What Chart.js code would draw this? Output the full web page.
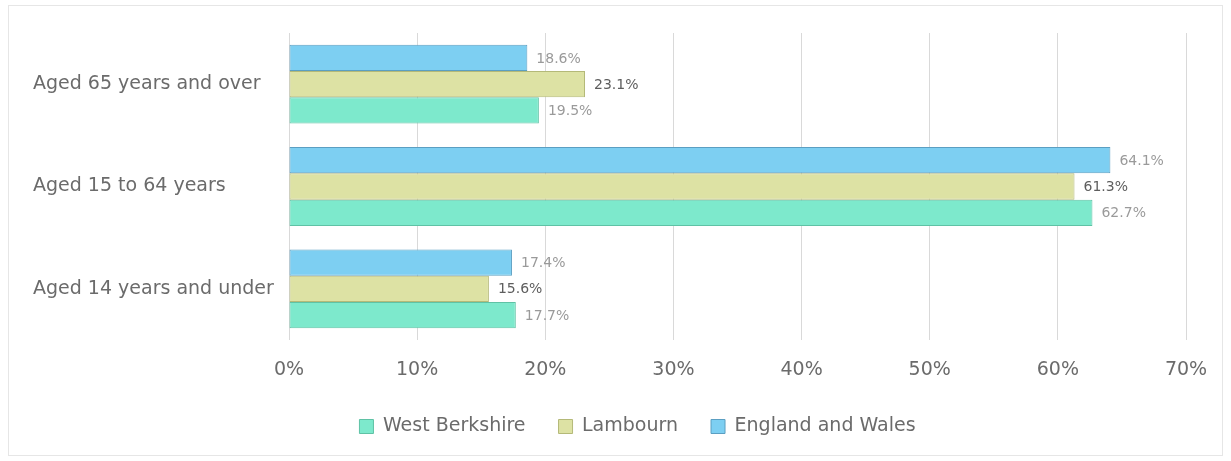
<!DOCTYPE html>
<html lang="en">
<head>
<meta charset="UTF-8">
<title>Age structure</title>
<script src="https://cdn.jsdelivr.net/npm/chart.js@4/dist/chart.umd.min.js"></script>
<style>
*{margin:0;padding:0;box-sizing:border-box}
body{background:#fff;width:1231px;height:461px;overflow:hidden}
.wrap{position:absolute;left:0;top:0;width:1231px;height:461px}
.frame{position:absolute;left:8px;top:5px;width:1215px;height:451px;border:1px solid #e6e6e6}
</style>
</head>
<body>
<div class="frame"></div>
<div class="wrap"><canvas id="c" width="1231" height="461"></canvas></div>
<script>
// categories, top to bottom
var categories = ["Aged 65 years and over", "Aged 15 to 64 years", "Aged 14 years and under"];
var xTicks = ["0%", "10%", "20%", "30%", "40%", "50%", "60%", "70%"];

// percentages per area
var westBerkshire = [19.5, 62.7, 17.7];
var lambourn = [23.1, 61.3, 15.6];
var englandWales = [18.6, 64.1, 17.4];

var FONT = "'DejaVu Sans', sans-serif";

// labels at the bar ends, legend nudged to the right like the original
var endLabels = {
  id: "endLabels",
  afterLayout: function(chart) {
    if (chart.legend) { chart.legend.left += 28; chart.legend.right += 28; }
  },
  afterDatasetsDraw: function(chart) {
    var ctx = chart.ctx;
    ctx.save();
    ctx.textBaseline = "middle";
    ctx.textAlign = "left";
    chart.data.datasets.forEach(function(ds, i) {
      var meta = chart.getDatasetMeta(i);
      if (meta.hidden) return;
      ctx.font = "14px " + FONT;
      ctx.fillStyle = ds.labelColor;
      meta.data.forEach(function(bar, j) {
        ctx.fillText(ds.data[j].toFixed(1) + "%", bar.x + 9, bar.y + 1);
      });
    });
    ctx.restore();
  }
};

new Chart(document.getElementById("c"), {
  type: "bar",
  data: {
    labels: categories,
    datasets: [
      {label: "England and Wales", data: englandWales, backgroundColor: "#7dcff2", borderColor: "#5b9fc2", borderWidth: 1, borderSkipped: false, labelColor: "#9a9a9a"},
      {label: "Lambourn", data: lambourn, backgroundColor: "#dde2a4", borderColor: "#b4b978", borderWidth: 1, borderSkipped: false, labelColor: "#5e5e5e"},
      {label: "West Berkshire", data: westBerkshire, backgroundColor: "#7de9cc", borderColor: "#5fc2a5", borderWidth: 1, borderSkipped: false, labelColor: "#9a9a9a"}
    ]
  },
  options: {
    indexAxis: "y",
    responsive: false,
    animation: false,
    layout: {padding: {top: 33, right: 45, bottom: 15, left: 33}},
    datasets: {bar: {barPercentage: 1, categoryPercentage: 0.77}},
    scales: {
      x: {
        min: 0, max: 70,
        grid: {color: "#d9d9d9", drawTicks: false},
        border: {display: false},
        ticks: {
          stepSize: 10, padding: 19, color: "#6b6b6b",
          font: {family: FONT, size: 19},
          callback: function(v, i) { return xTicks[i]; }
        },
        afterFit: function(s) { s.height = 44; }
      },
      y: {
        grid: {display: false, drawTicks: false},
        border: {display: false},
        ticks: {crossAlign: "far", padding: 0, color: "#6b6b6b", font: {family: FONT, size: 19}},
        afterFit: function(s) { s.width = 256; }
      }
    },
    plugins: {
      legend: {
        position: "bottom",
        reverse: true,
        labels: {
          boxWidth: 14, boxHeight: 14, padding: 33, color: "#6b6b6b",
          font: {family: FONT, size: 19}
        }
      },
      tooltip: {enabled: false}
    }
  },
  plugins: [endLabels]
});
</script>
</body>
</html>
